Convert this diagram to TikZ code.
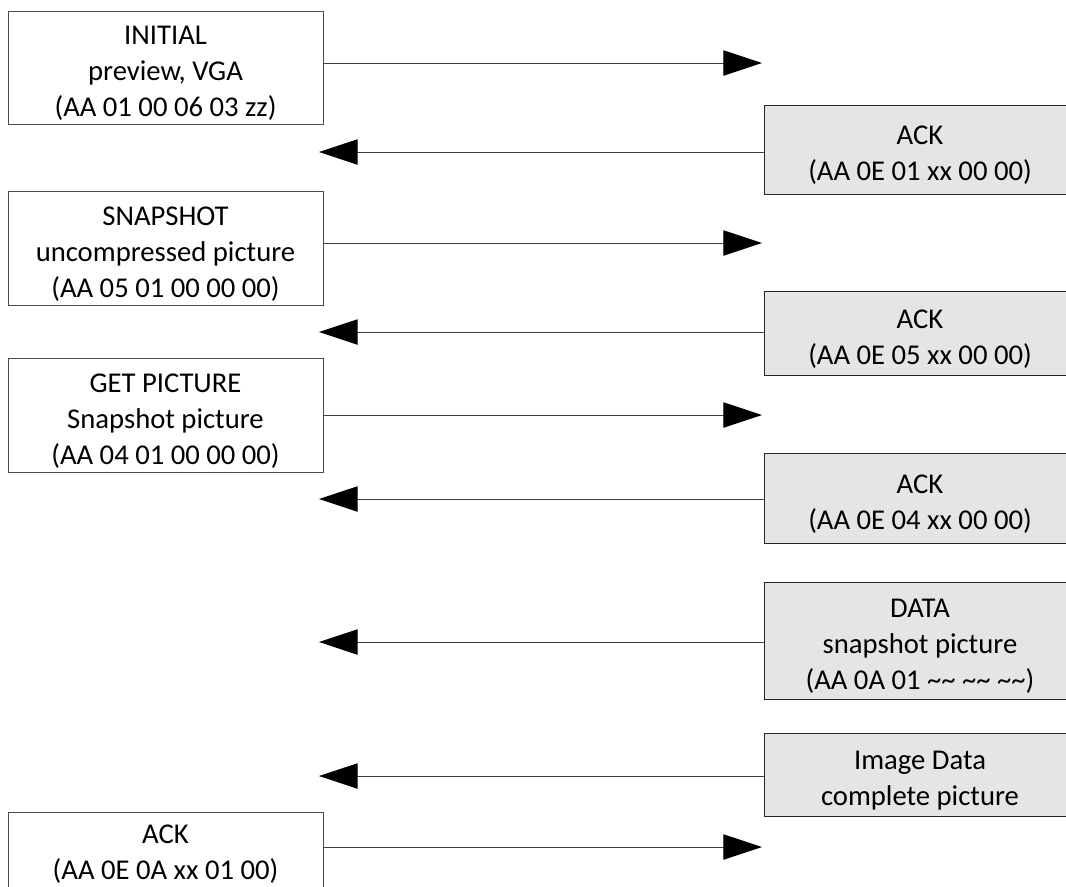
\documentclass[tikz,border=0pt]{standalone}
\usepackage{fontspec}
\setmainfont{Carlito}
\usetikzlibrary{arrows.meta}
\newcommand{\lift}{\rule{0pt}{23pt}}
\begin{document}
\begin{tikzpicture}[x=0.75pt,y=-0.75pt]
                      \tikzstyle{host}=[draw=black!70,line width=0.75pt,fill=white,align=center,inner sep=0pt,minimum width=236.25pt,font=\fontsize{21.5pt}{27pt}\selectfont]
                      \tikzstyle{cam}=[host,draw=black!85,fill=black!10,minimum width=234pt]
                      \tikzstyle{msg}=[draw=black!75,line width=0.75pt,-{Triangle[length=29pt,width=19pt,black]}]
                      \clip (0,0) rectangle (1066,886);
                      \node[host,minimum height=84.75pt] (a) at (165.5,67.5) {\lift INITIAL\\preview, VGA\\(AA 01 00 06 03 zz)};
                      \node[host,minimum height=85.5pt] (b) at (165.5,248) {\lift SNAPSHOT\\uncompressed picture\\(AA 05 01 00 00 00)};
                      \node[host,minimum height=85.5pt] (c) at (165.5,415) {\lift GET PICTURE\\Snapshot picture\\(AA 04 01 00 00 00)};
                      \node[host,minimum height=63pt] (d) at (165.5,854) {ACK\\(AA 0E 0A xx 01 00)};
                      \node[cam,minimum height=66.75pt] (e) at (920,149.5) {\lift ACK\\(AA 0E 01 xx 00 00)};
                      \node[cam,minimum height=63pt] (f) at (920,333) {\lift ACK\\(AA 0E 05 xx 00 00)};
                      \node[cam,minimum height=67.5pt] (g) at (920,498) {\lift ACK\\(AA 0E 04 xx 00 00)};
                      \node[cam,minimum height=87.75pt] (h) at (920,640.5) {\lift DATA\\snapshot picture\\(AA 0A 01 \textasciitilde\textasciitilde{} \textasciitilde\textasciitilde{} \textasciitilde\textasciitilde)};
                      \node[cam,minimum height=62.25pt] (i) at (920,774.5) {\lift Image Data\\complete picture};
                      % requests, host to camera
                      \coordinate (p1) at (762,63);
                      \coordinate (p2) at (762,243);
                      \coordinate (p3) at (762,415);
                      \coordinate (p4) at (762,847);
                      \draw[msg] (a.east |- p1) -- (p1);
                      \draw[msg] (b.east |- p2) -- (p2);
                      \draw[msg] (c.east |- p3) -- (p3);
                      \draw[msg] (d.east |- p4) -- (p4);
                      % replies, camera to host
                      \coordinate (q1) at (319,152);
                      \coordinate (q2) at (319,332);
                      \coordinate (q3) at (319,499);
                      \coordinate (q4) at (319,642);
                      \coordinate (q5) at (319,776);
                      \draw[msg] (e.west |- q1) -- (q1);
                      \draw[msg] (f.west |- q2) -- (q2);
                      \draw[msg] (g.west |- q3) -- (q3);
                      \draw[msg] (h.west |- q4) -- (q4);
                      \draw[msg] (i.west |- q5) -- (q5);
                  \end{tikzpicture}
\end{document}
